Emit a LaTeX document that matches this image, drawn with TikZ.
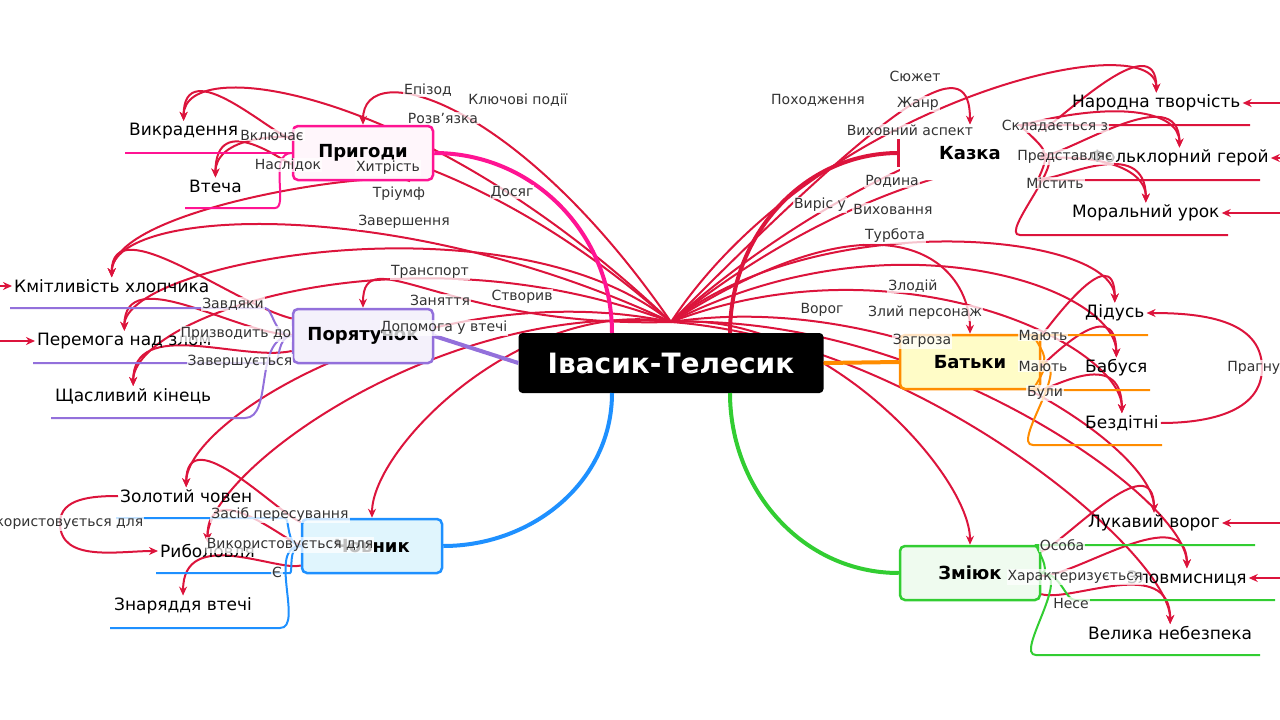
\documentclass[tikz,border=0pt]{standalone}
\usepackage{fontspec}
\setmainfont{DejaVu Sans}
\usetikzlibrary{arrows.meta}
\pgfdeclarelayer{back}
\pgfsetlayers{back,main}
\definecolor{relred}{HTML}{DC143C}
\definecolor{pinkc}{HTML}{FF1493}
\definecolor{purplec}{HTML}{9370DB}
\definecolor{bluec}{HTML}{1E90FF}
\definecolor{orangec}{HTML}{FF8C00}
\definecolor{greenc}{HTML}{32CD32}
\tikzset{
    hub/.style={rectangle, rounded corners=4pt, fill=black, text=white, minimum width=305pt, minimum height=60pt, font=\fontsize{28}{32}\selectfont\bfseries},
    branch/.style={rectangle, rounded corners=5pt, line width=2.5pt, minimum width=140pt, minimum height=54pt, font=\fontsize{18}{22}\selectfont\bfseries},
    leaf/.style={anchor=west, inner sep=2pt, font=\fontsize{17}{20}\selectfont},
    lbl/.style={fill=white, fill opacity=0.75, text opacity=1, inner sep=1pt, text=black!80, font=\fontsize{14}{16}\selectfont},
    rel/.style={draw=relred, line width=2pt, -{Stealth[length=9pt,width=8pt]}},
    twig/.style={line width=2pt, rounded corners=10pt}
}

\begin{document}
\begin{tikzpicture}[x=1pt, y=-1pt]
    \useasboundingbox (0,0) rectangle (1280,720);
    % centre and branches
    \node[hub] (hub) at (671,363) {Івасик-Телесик};
    \coordinate (hubtop) at (671,322);
    \node[branch, draw=pinkc, fill=pinkc!4] (pryh) at (363,153) {Пригоди};
    \node[branch, draw=purplec, fill=purplec!10] (por) at (363,336) {Порятунок};
    \node[branch, draw=bluec, fill=cyan!12] (chov) at (372,546) {Човник};
    \node[branch, fill=white] (kaz) at (970,153) {Казка};
    \node[branch, draw=orangec, fill=yellow!22] (bat) at (970,362) {Батьки};
    \node[branch, draw=greenc, fill=greenc!8] (zmi) at (970,573) {Змiюк};
    \draw[relred, line width=3pt] (kaz.west) ++(0,-14) -- ++(0,28);

    \draw[pinkc, line width=4pt] (612,333) to[out=90,in=0] (pryh.east);
    \draw[purplec, line width=4pt] (hub.west) -- (por.east);
    \draw[bluec, line width=4pt] (612,393) to[out=-90,in=0] (chov.east);
    \draw[relred, line width=4pt] (730,333) to[out=90,in=180] (kaz.west);
    \draw[orangec, line width=4pt] (hub.east) -- (bat.west);
    \draw[greenc, line width=4pt] (730,393) to[out=-90,in=180] (zmi.west);

    % leaves, left
    \foreach \n/\x/\y/\e/\t in {vykr/127/131/260/Викрадення, vtecha/187/186/265/Втеча}{
        \node[leaf] (\n) at (\x,\y) {\t};
        \draw[twig, pinkc] (\x-2,\y+22) -- (\e,\y+22) to[out=0,in=180] (pryh.west);
    }
    \foreach \n/\x/\y/\e/\t in {kmit/12/286/255/Кмітливість хлопчика, perem/35/341/265/Перемога над злом, shchas/53/396/235/Щасливий кінець}{
        \node[leaf] (\n) at (\x,\y) {\t};
        \draw[twig, purplec] (\x-2,\y+22) -- (\e,\y+22) to[out=0,in=180] (por.west);
    }
    \foreach \n/\x/\y/\e/\t in {zol/118/496/275/Золотий човен, ryb/158/551/280/Риболовля, znar/112/606/270/Знаряддя втечі}{
        \node[leaf] (\n) at (\x,\y) {\t};
        \draw[twig, bluec] (\x-2,\y+22) -- (\e,\y+22) to[out=0,in=180] (chov.west);
    }
    % leaves, right
    \foreach \n/\x/\y/\e/\t in {nar/1070/103/1250/Народна творчість, folk/1088/158/1260/Фольклорний герой, moral/1070/213/1228/Моральний урок}{
        \node[leaf] (\n) at (\x,\y) {\t};
        \draw[twig, relred] (kaz.east) to[out=0,in=180] (\x-40,\y+22) -- (\e,\y+22);
    }
    \foreach \n/\x/\y/\e/\t in {didus/1083/313/1148/Дідусь, babus/1083/368/1150/Бабуся, bezd/1083/423/1162/Бездітні}{
        \node[leaf] (\n) at (\x,\y) {\t};
        \draw[twig, orangec] (bat.east) to[out=0,in=180] (\x-40,\y+22) -- (\e,\y+22);
    }
    \foreach \n/\x/\y/\e/\t in {luk/1086/523/1255/Лукавий ворог, zlov/1125/578/1275/Зловмисниця, vel/1086/633/1260/Велика небезпека}{
        \node[leaf] (\n) at (\x,\y) {\t};
        \draw[twig, greenc] (zmi.east) to[out=0,in=180] (\x-40,\y+22) -- (\e,\y+22);
    }

    % relations that drop onto their target from above
    \foreach \s/\lx/\ly/\g/\t [count=\i] in {
        hubtop/428/90/vykr/Епізод, hubtop/518/100/pryh/Ключові події,
        hubtop/443/118/vtecha/Розв'язка, hubtop/399/194/kmit/Тріумф,
        hubtop/512/192/perem/Досяг, hubtop/404/222/shchas/Завершення,
        hubtop/430/272/zol/Транспорт, hubtop/440/300/ryb/Заняття,
        hubtop/522/297/chov/Створив, hubtop/444/328/por/Допомога у втечі,
        hubtop/818/100/nar/Походження, hubtop/915/76/kaz/Сюжет,
        hubtop/918/104/folk/Жанр, hubtop/910/130/moral/Виховний аспект,
        hubtop/892/181/bat/Родина, hubtop/820/205/didus/Виріс у,
        hubtop/893/209/babus/Виховання, hubtop/895/236/bezd/Турбота,
        hubtop/913/286/luk/Злодій, hubtop/925/313/zlov/Злий персонаж,
        hubtop/822/310/zmi/Ворог, hubtop/922/341/vel/Загроза,
        pryh/272/135/vykr/Включає, pryh/288/165/vtecha/Наслідок,
        pryh/388/168/kmit/Хитрість, por/233/304/kmit/Завдяки,
        por/236/334/perem/Призводить до, por/240/362/shchas/Завершується,
        chov/280/515/zol/Засіб пересування, chov/290/545/ryb/Використовується для,
        chov/277/572/znar/Є,
        kaz/1055/126/nar/Складається з, kaz/1065/157/folk/Представляє,
        kaz/1055/183/moral/Містить, bat/1043/335/didus/Мають,
        bat/1043/366/babus/Мають, bat/1045/393/bezd/Були,
        zmi/1062/545/luk/Особа, zmi/1075/577/zlov/Характеризується,
        zmi/1071/603/vel/Несе}{
        \node[lbl] (l\i) at (\lx,\ly) {\t};
        \begin{pgfonlayer}{back}
            \draw[rel] (\s) .. controls (l\i.center) and ([yshift=70pt]\g.north) .. (\g.north);
        \end{pgfonlayer}
    }
    % side loops
    \node[lbl] (lryb) at (60,523) {Використовується для};
    \node[lbl] (lprag) at (1262,368) {Прагнуть};
    \begin{pgfonlayer}{back}
        \draw[rel] (zol.west) to[out=180,in=90] (lryb.center) to[out=-90,in=180] (ryb.west);
        \draw[rel] (bezd.east) to[out=0,in=-90] (lprag.center) to[out=90,in=0] (didus.east);
    \end{pgfonlayer}
    % arrows from beyond the frame
    \foreach \g/\y in {nar/103, folk/158, moral/213, luk/523, zlov/578}{
        \coordinate (in\g) at (1290,\y);
        \draw[rel] (in\g) -- (\g);
    }
    \foreach \g/\y in {kmit/286, perem/341}{
        \coordinate (in\g) at (-10,\y);
        \draw[rel] (in\g) -- (\g);
    }
\end{tikzpicture}
\end{document}
